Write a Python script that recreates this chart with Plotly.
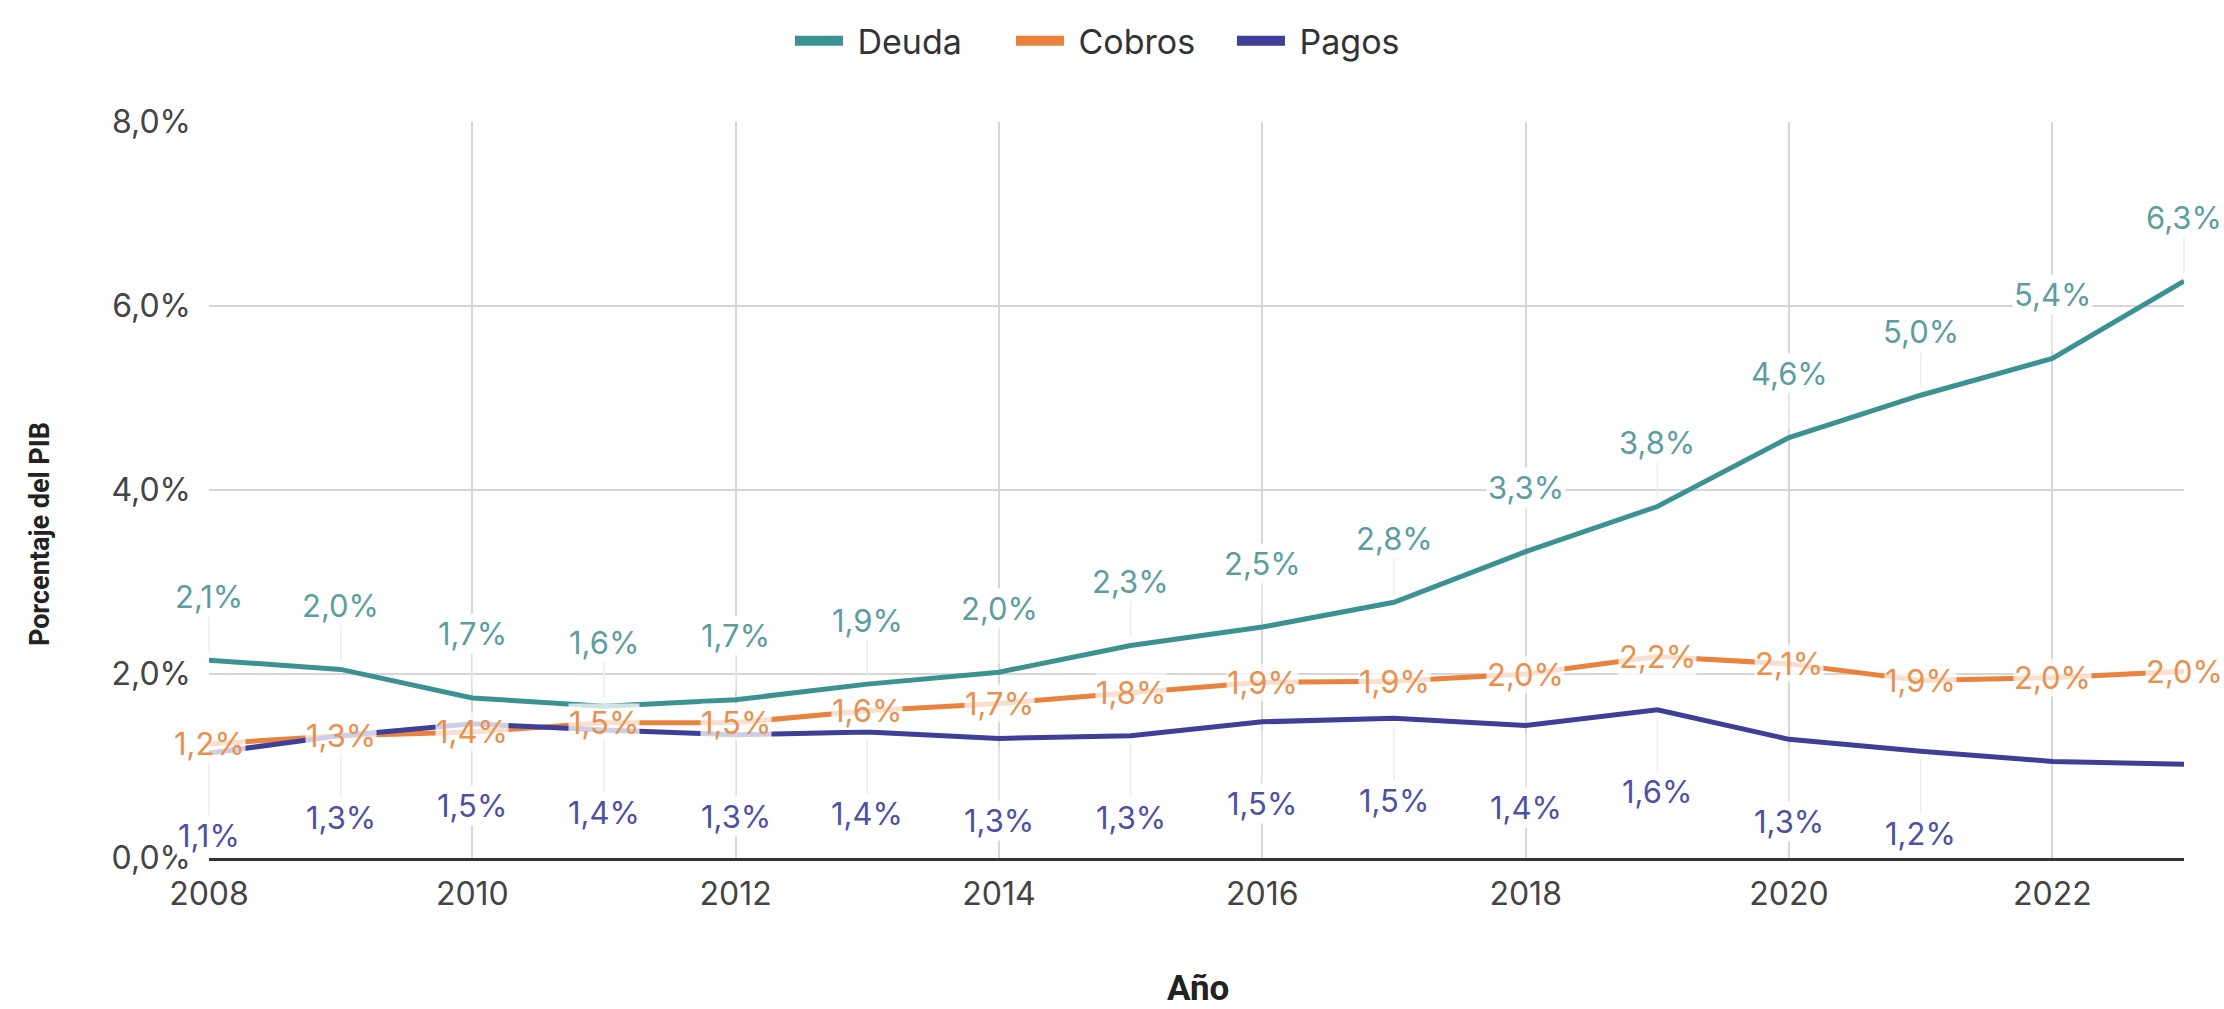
import plotly.graph_objects as go

# Series (percentage of GDP) by year
years = list(range(2008, 2024))
deuda = [2.15, 2.05, 1.74, 1.65, 1.72, 1.89, 2.02, 2.31, 2.51, 2.78, 3.33, 3.82, 4.57, 5.03, 5.43, 6.27]
cobros = [1.24, 1.33, 1.37, 1.47, 1.47, 1.60, 1.68, 1.80, 1.91, 1.92, 2.00, 2.19, 2.11, 1.93, 1.96, 2.03]
pagos = [1.14, 1.33, 1.46, 1.39, 1.34, 1.37, 1.30, 1.33, 1.48, 1.52, 1.44, 1.61, 1.29, 1.16, 1.05, 1.02]
# which Pagos points carry a value label
pagos_labeled = [True] * 14 + [False, False]

series_names = ["Deuda", "Cobros", "Pagos"]
y_ticks = [0, 2, 4, 6, 8]
x_ticks = list(range(2008, 2024, 2))

C_DEUDA = "#3c9293"
C_COBROS = "#e8823c"
C_PAGOS = "#3d3f98"
L_DEUDA = "#5c9ea0"
L_COBROS = "#e8904f"
L_PAGOS = "#4d51a3"

FONT = "Inter"


def pct(v):
    return f"{v:.1f}".replace(".", ",") + "%"


fig = go.Figure()
for name, vals, col in zip(series_names, [deuda, cobros, pagos], [C_DEUDA, C_COBROS, C_PAGOS]):
    fig.add_trace(go.Scatter(x=years, y=vals, name=name, mode="lines",
                             line=dict(color=col, width=5), showlegend=False,
                             legendgroup=name))
# Legend entries drawn as thick swatches
for name, col in zip(series_names, [C_DEUDA, C_COBROS, C_PAGOS]):
    fig.add_trace(go.Scatter(x=[None], y=[None], name="\u00a0" + name, mode="lines",
                             line=dict(color=col, width=10), legendgroup=name))

annotations = []
# Deuda labels above the line with a faint leader
for x, v in zip(years, deuda):
    annotations.append(dict(x=x, y=v, xref="x", yref="y", text=pct(v),
                            showarrow=True, ax=0, ay=-64, arrowhead=0,
                            arrowwidth=1.5, arrowcolor="#ececec", standoff=8,
                            bgcolor="white", borderpad=1,
                            font=dict(family=FONT, size=31, color=L_DEUDA)))
# Pagos labels below the line with a faint leader
for x, v, show in zip(years, pagos, pagos_labeled):
    if not show:
        continue
    annotations.append(dict(x=x, y=v, xref="x", yref="y", text=pct(v),
                            showarrow=True, ax=0, ay=82, arrowhead=0,
                            arrowwidth=1.5, arrowcolor="#ececec", standoff=8,
                            bgcolor="white", borderpad=1,
                            font=dict(family=FONT, size=31, color=L_PAGOS)))
# Cobros labels sit on the line
for x, v in zip(years, cobros):
    annotations.append(dict(x=x, y=v, xref="x", yref="y", text=pct(v),
                            showarrow=False, bgcolor="rgba(255,255,255,0.75)",
                            borderpad=0,
                            font=dict(family=FONT, size=31, color=L_COBROS)))

# Axis titles
annotations.append(dict(x=-0.0856, y=0.44, xref="paper", yref="paper",
                        xanchor="center", yanchor="middle",
                        text="<b>Porcentaje del PIB</b>", textangle=-90,
                        showarrow=False,
                        font=dict(family="Roboto", size=27, color="#222222")))
annotations.append(dict(x=0.501, y=-0.177, xref="paper", yref="paper",
                        xanchor="center", yanchor="middle",
                        text="<b>Año</b>", showarrow=False,
                        font=dict(family="Roboto", size=35, color="#222222")))

fig.update_layout(
    width=2224, height=1009,
    margin=dict(l=209, r=40, t=119, b=151),
    paper_bgcolor="white", plot_bgcolor="white",
    separators=",.",
    showlegend=True,
    legend=dict(orientation="h", x=0.462, y=1.11, xanchor="center", yanchor="middle",
                font=dict(family=FONT, size=34, color="#333333"),
                itemwidth=48, traceorder="normal", entrywidth=158),
    annotations=annotations,
)

fig.update_xaxes(
    range=[2008, 2023], tickvals=x_ticks, ticktext=[str(t) for t in x_ticks],
    showgrid=True, gridcolor="#d6d6d6", gridwidth=2,
    showline=True, linecolor="#333333", linewidth=3,
    zeroline=False, ticks="", ticklabelstandoff=6,
    tickfont=dict(family=FONT, size=32, color="#444444"),
)
fig.update_yaxes(
    range=[0, 8], tickvals=y_ticks, ticktext=[pct(t) for t in y_ticks],
    showgrid=True, gridcolor="#d6d6d6", gridwidth=2,
    showline=False, zeroline=False, ticks="", ticklabelstandoff=17,
    tickfont=dict(family=FONT, size=32, color="#444444"),
)

fig.write_html("out.html")
